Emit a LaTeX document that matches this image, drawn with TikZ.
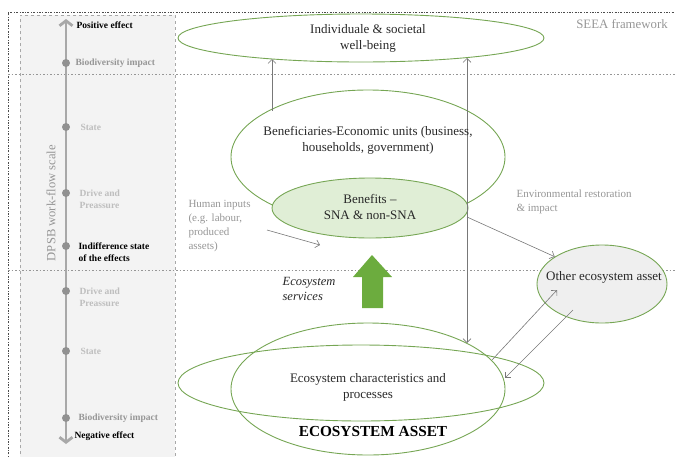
\documentclass[tikz,border=0pt]{standalone}
\usepackage{fontspec}
\setmainfont{Liberation Serif}
\usetikzlibrary{shapes.geometric,arrows.meta,positioning}

\definecolor{ellgreen}{RGB}{118,166,84}
\definecolor{benefgreen}{RGB}{224,238,214}
\definecolor{blockgreen}{RGB}{108,172,62}
\definecolor{othergray}{RGB}{239,239,239}
\definecolor{panelgray}{RGB}{243,243,243}
\definecolor{axisgray}{RGB}{168,168,168}
\definecolor{dotgray}{RGB}{145,145,145}
\definecolor{midgray}{RGB}{150,150,150}
\definecolor{lightgray}{RGB}{190,190,190}
\definecolor{arrgray}{RGB}{120,120,120}
\definecolor{textdark}{RGB}{40,40,40}

\tikzset{
    ell/.style={draw=ellgreen, line width=0.9pt, ellipse, inner sep=0pt},
    txt/.style={text=textdark, align=center, font=\fontsize{13}{16}\selectfont},
    graytxt/.style={text=midgray, align=left, font=\fontsize{11}{14}\selectfont},
    axislab/.style={anchor=west, align=left, font=\bfseries\fontsize{9.5}{12}\selectfont},
    arr/.style={-{Straight Barb[length=4pt,width=8pt]}, draw=arrgray, line width=0.6pt},
    sep/.style={draw=midgray, line width=0.6pt, dash pattern=on 1.5pt off 2pt}
}

\begin{document}
\begin{tikzpicture}[x=1pt,y=-1pt]
    \useasboundingbox (0,0) rectangle (675,456);

    % DPSB panel
    \fill[panelgray] (20,15) rectangle (175,460);
    \draw[axisgray, line width=0.8pt, dashed] (20,460) -- (20,15) -- (175,15) -- (175,460);

    % Frame and level separators
    \draw[black!70, line width=0.7pt, dash pattern=on 2pt off 1.5pt on 0.7pt off 1.5pt]
        (8,460) -- (8,12) -- (680,12);
    \draw[sep] (8,74) -- (675,74);
    \draw[sep] (8,270) -- (675,270);

    % Work-flow scale
    \coordinate (scaletop) at (66,19);
    \coordinate (scalebot) at (66,444);
    \draw[axisgray, line width=2.8pt,
          {Straight Barb[length=5pt,width=13pt]}-{Straight Barb[length=5pt,width=13pt]}]
        (scalebot) -- (scaletop);

    \foreach \yy/\dy/\dx/\txt/\col in {63/0/72/Biodiversity impact/midgray,
                                      127/0/77/State/lightgray,
                                      193/6/76/{Drive and\\Preassure}/lightgray,
                                      246/6/75/{Indifference state\\of the effects}/black,
                                      291/6/76/{Drive and\\Preassure}/lightgray,
                                      351/0/77/State/lightgray,
                                      418/0/75/Biodiversity impact/midgray}
    {
        \fill[dotgray] (66,\yy) circle (4);
        \node[axislab, text=\col] (lev\yy) at (\dx,\yy+\dy) {\txt};
    }
    \node[axislab] (pos) at (73,25) {Positive effect};
    \node[axislab] (neg) at (71,436) {Negative effect};
    \node[rotate=90, text=midgray, font=\fontsize{12.6}{14}\selectfont] (dpsb) at (51,203) {DPSB work-flow scale};

    % Ellipses
    \node[ell, fill=white, minimum width=366, minimum height=48] (wb) at (361,38) {};
    \node[ell, minimum width=274, minimum height=134] (benef) at (368,157) {};
    \node[ell, fill=benefgreen, minimum width=196, minimum height=60] (sna) at (370,208) {};
    \node[ell, fill=othergray, minimum width=130, minimum height=78] (other) at (602,284) {};
    \node[ell, minimum width=366, minimum height=76] (ecowide) at (361,383) {};
    \node[ell, minimum width=274, minimum height=132] (ecotall) at (368,389) {};

    % Ecosystem services block arrow
    \fill[blockgreen] (372,255) -- (392,277) -- (383,277) -- (383,308)
        -- (362,308) -- (362,277) -- (353,277) -- cycle;

    % Connectors
    \coordinate (hub) at (467,217);
    \coordinate (benL) at (272,111);
    \coordinate (wbL) at (272,59);
    \coordinate (wbR) at (467,58);
    \coordinate (ecotop) at (467,343);
    \coordinate (humanout) at (267,230);
    \coordinate (humanin) at (320,245);
    \coordinate (ecoout) at (492,360);
    \coordinate (otherin) at (557,290);
    \coordinate (otherout) at (573,310);
    \coordinate (ecoin) at (505,378);

    \draw[arr] (benL) -- (wbL);
    \draw[arr] (hub) -- (wbR);
    \draw[arr] (hub) -- (ecotop);
    \draw[arr] (hub) -- (other.150);
    \draw[arr] (humanout) -- (humanin);
    \draw[arr] (ecoout) -- (otherin);
    \draw[arr] (otherout) -- (ecoin);

    % Texts
    \node[txt] (wbtxt) at (368,38) {Individuale \& societal\\well-being};
    \node[txt] (beneftxt) at (368,140) {Beneficiaries-Economic units (business,\\households, government)};
    \node[txt] (snatxt) at (370,207) {Benefits –\\SNA \& non-SNA};
    \node[txt] (othertxt) at (604,277) {Other ecosystem asset};
    \node[txt] (ecotxt) at (368,387) {Ecosystem characteristics and\\processes};
    \node[text=black, font=\bfseries\fontsize{15.3}{17}\selectfont] (asset) at (373,432) {ECOSYSTEM ASSET};
    \node[txt, font=\itshape\fontsize{12.5}{15}\selectfont, align=left] (services) at (309,289) {Ecosystem\\services};
    \node[graytxt, anchor=north west] (human) at (185,197) {Human inputs\\(e.g. labour,\\produced\\assets)};
    \node[graytxt, anchor=west] (env) at (513,202) {Environmental restoration\\\& impact};
    \node[text=midgray, font=\fontsize{12.8}{14}\selectfont] (seea) at (622,24) {SEEA framework};

\end{tikzpicture}
\end{document}
